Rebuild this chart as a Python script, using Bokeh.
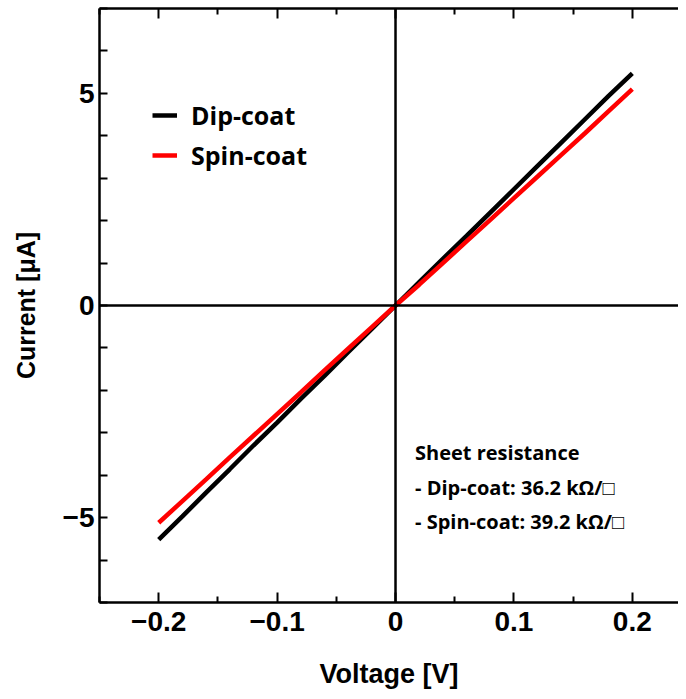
from bokeh.plotting import figure
from bokeh.models import (Range1d, LinearAxis, FixedTicker, CustomJSTickFormatter,
                          Span, Label, Legend, LegendItem)
from bokeh.embed import file_html
from bokeh.resources import INLINE

# ---- data ----
voltage = [-0.20, -0.18, -0.16, -0.14, -0.12, -0.10, -0.08, -0.06, -0.04, -0.02, 0.00,
           0.02, 0.04, 0.06, 0.08, 0.10, 0.12, 0.14, 0.16, 0.18, 0.20]
dip_current = [-5.52, -4.97, -4.41, -3.86, -3.30, -2.76, -2.20, -1.66, -1.10, -0.55, 0.00,
               0.55, 1.10, 1.64, 2.19, 2.74, 3.29, 3.84, 4.39, 4.94, 5.47]
spin_current = [-5.12, -4.61, -4.10, -3.58, -3.07, -2.56, -2.05, -1.53, -1.02, -0.51, 0.00,
                0.49, 1.00, 1.51, 2.02, 2.53, 3.04, 3.55, 4.06, 4.58, 5.10]
series_names = ["Dip-coat", "Spin-coat"]
series_colors = ["#000000", "#ff0000"]
annotation_lines = ["Sheet resistance",
                    "- Dip-coat: 36.2 k\u03a9/\u25a1",
                    "- Spin-coat: 39.2 k\u03a9/\u25a1"]
x_label = "Voltage [V]"
y_label = "Current [\u03bcA]"
x_major = [-0.2, -0.1, 0.0, 0.1, 0.2]
x_minor = [-0.25, -0.15, -0.05, 0.05, 0.15, 0.25]
y_major = [-5, 0, 5]
y_minor = [-7, -6, -4, -3, -2, -1, 1, 2, 3, 4, 6, 7]

AX_FONT = "Liberation Sans"

p = figure(width=678, height=691, output_backend="svg", toolbar_location=None,
           x_range=Range1d(-0.25, 0.239), y_range=Range1d(-7, 7),
           x_axis_location=None, y_axis_location=None,
           min_border_left=99, min_border_right=0, min_border_top=8, min_border_bottom=88)
p.outline_line_color = None
p.grid.visible = False
p.background_fill_color = "white"
p.border_fill_color = "white"

fmt = CustomJSTickFormatter(code="""
    const v = Math.round(tick * 10) / 10;
    const s = Math.abs(v).toString();
    return v < 0 ? '\\u2212' + s : s;
""")
blank = CustomJSTickFormatter(code="return '';")

def style_axis(ax, major_in, minor_in, labels=True):
    ax.axis_line_color = "black"
    ax.axis_line_width = 2.5
    ax.major_tick_line_color = "black"
    ax.minor_tick_line_color = "black"
    ax.major_tick_line_width = 2
    ax.minor_tick_line_width = 2
    ax.major_tick_in = major_in
    ax.major_tick_out = 0
    ax.minor_tick_in = minor_in
    ax.minor_tick_out = 0
    if labels:
        ax.major_label_text_font = AX_FONT
        ax.major_label_text_font_style = "bold"
        ax.major_label_text_font_size = "28px"
        ax.major_label_text_color = "black"
        ax.axis_label_text_font = AX_FONT
        ax.axis_label_text_font_style = "bold"
        ax.axis_label_text_color = "black"
    else:
        ax.formatter = blank
        ax.major_label_standoff = 0

xt = FixedTicker(ticks=x_major, minor_ticks=x_minor)
yt = FixedTicker(ticks=y_major, minor_ticks=y_minor)

bottom = LinearAxis(ticker=xt, formatter=fmt, axis_label=x_label)
style_axis(bottom, 10, 6)
bottom.axis_label_text_font_size = "27px"
bottom.major_label_standoff = 9
bottom.axis_label_standoff = 25
p.add_layout(bottom, "below")

left = LinearAxis(ticker=yt, formatter=fmt, axis_label=y_label)
style_axis(left, 8, 8)
left.axis_label_text_font_size = "25px"
left.major_label_standoff = 5
left.axis_label_standoff = 20
p.add_layout(left, "left")

top = LinearAxis(ticker=xt)
style_axis(top, 10, 6, labels=False)
p.add_layout(top, "above")

p.add_layout(Span(location=0, dimension="height", line_color="black", line_width=2.5))
p.add_layout(Span(location=0, dimension="width", line_color="black", line_width=2.5))

r_dip = p.line(voltage, dip_current, line_color=series_colors[0], line_width=4.5)
r_spin = p.line(voltage, spin_current, line_color=series_colors[1], line_width=4.5)

legend = Legend(items=[LegendItem(label=series_names[0], renderers=[r_dip]),
                       LegendItem(label=series_names[1], renderers=[r_spin])],
                location=(53, 430))
legend.border_line_color = None
legend.background_fill_alpha = 0
legend.padding = 0
legend.margin = 0
legend.spacing = 6
legend.glyph_width = 25
legend.glyph_height = 30
legend.label_height = 30
legend.label_standoff = 14
legend.label_text_font = "Open Sans"
legend.label_text_font_style = "bold"
legend.label_text_font_size = "25px"
legend.label_text_color = "black"
p.add_layout(legend)

ann_y = [-3.46, -4.30, -5.10]
for txt, yy in zip(annotation_lines, ann_y):
    p.add_layout(Label(x=0.0165, y=yy, text=txt, text_font="Open Sans",
                       text_font_style="bold",
                       text_font_size="20px", text_baseline="middle",
                       text_color="black"))

open("out.html", "w").write(file_html(p, INLINE))
